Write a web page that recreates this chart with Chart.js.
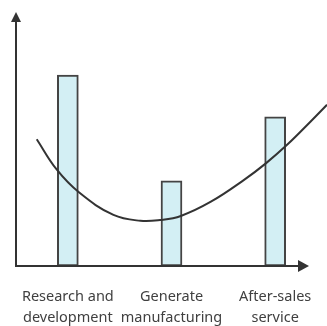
<!DOCTYPE html>
<html>
<head>
<meta charset="utf-8">
<script src="https://cdn.jsdelivr.net/npm/chart.js@4"></script>
<style>
  html, body { margin: 0; padding: 0; background: #fff; }
  #wrap { width: 327px; height: 326px; position: relative; }
</style>
</head>
<body>
<div id="wrap"><canvas id="c"></canvas></div>
<script>
// Categories (multi-line tick labels)
const categories = [
  ["Research and", "development"],
  ["Generate", "manufacturing"],
  ["After-sales", "service"]
];
// Bar heights (relative value added, 0-100)
const barValues = [75.2, 33.5, 58.7];
// Smile curve: x in category-index units, y in value units
const curveX = [-0.30, -0.11, 0.11, 0.44, 0.70, 0.89, 1.09, 1.38, 1.70, 1.91, 2.12, 2.34, 2.50];
const curveY = [49.9, 38.1, 28.9, 20.1, 17.8, 18.1, 19.7, 25.3, 33.9, 40.4, 47.9, 56.8, 63.5];

const curvePoints = curveX.map((x, i) => ({ x: x, y: curveY[i] }));

const axisArrows = {
  id: 'axisArrows',
  afterDraw(chart) {
    const { ctx, chartArea } = chart;
    const L = chartArea.left, B = chartArea.bottom, T = chartArea.top;
    ctx.save();
    ctx.strokeStyle = '#333';
    ctx.fillStyle = '#333';
    ctx.lineWidth = 2;
    // y axis
    ctx.beginPath();
    ctx.moveTo(L, B + 1);
    ctx.lineTo(L, T + 8);
    ctx.stroke();
    ctx.beginPath();
    ctx.moveTo(L, T);
    ctx.lineTo(L - 5, T + 10);
    ctx.lineTo(L + 5, T + 10);
    ctx.closePath();
    ctx.fill();
    // x axis
    const xr = 309;
    ctx.beginPath();
    ctx.moveTo(L - 1, B);
    ctx.lineTo(xr - 9, B);
    ctx.stroke();
    ctx.beginPath();
    ctx.moveTo(xr, B);
    ctx.lineTo(xr - 11, B - 6);
    ctx.lineTo(xr - 11, B + 6);
    ctx.closePath();
    ctx.fill();
    ctx.restore();
  }
};

new Chart(document.getElementById('c'), {
  data: {
    labels: categories,
    datasets: [
      {
        type: 'line',
        data: curvePoints,
        xAxisID: 'xl',
        yAxisID: 'y',
        borderColor: '#333',
        borderWidth: 2,
        pointRadius: 0,
        tension: 0.4,
        fill: false,
        order: 0
      },
      {
        type: 'bar',
        data: barValues,
        xAxisID: 'x',
        yAxisID: 'y',
        backgroundColor: '#d3eff4',
        borderColor: '#444',
        borderWidth: 2,
        borderSkipped: false,
        barThickness: 21,
        grouped: false,
        order: 1
      }
    ]
  },
  options: {
    responsive: true,
    maintainAspectRatio: false,
    animation: false,
    layout: { padding: { left: 16, right: 0, top: 12, bottom: 0 } },
    plugins: { legend: { display: false }, tooltip: { enabled: false } },
    scales: {
      x: {
        type: 'category',
        offset: true,
        grid: { display: false, drawTicks: false },
        border: { display: false },
        ticks: {
          autoSkip: false,
          maxRotation: 0,
          minRotation: 0,
          padding: 20,
          color: '#404040',
          font: { family: 'Noto Sans', size: 14.5, lineHeight: 1.45 }
        },
        afterFit(scale) {
          scale.height = 60;
          scale.paddingLeft = 0;
          scale.paddingRight = 0;
        }
      },
      xl: {
        type: 'linear',
        display: false,
        min: -0.5,
        max: 2.5
      },
      y: {
        display: false,
        min: 0,
        max: 100
      }
    }
  },
  plugins: [axisArrows]
});
</script>
</body>
</html>
